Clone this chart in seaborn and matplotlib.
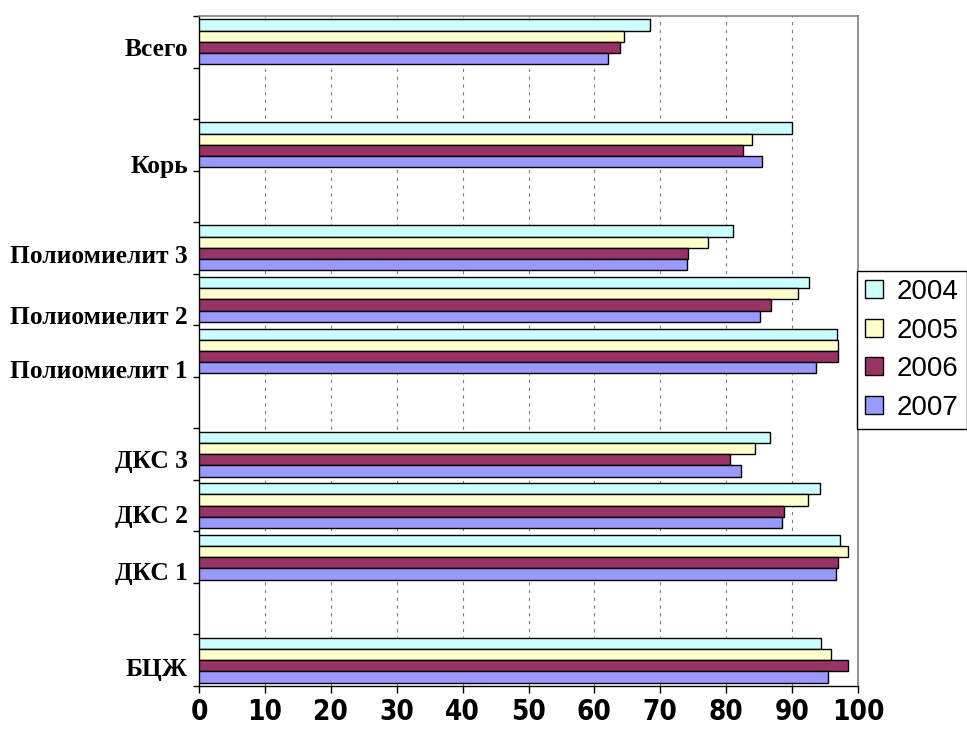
import numpy as np
import pandas as pd
import matplotlib
matplotlib.use("Agg")
import matplotlib.pyplot as plt
import seaborn as sns

# data (percent)
years = ["2004", "2005", "2006", "2007"]
categories = ["Всего", "Корь", "Полиомиелит 3", "Полиомиелит 2", "Полиомиелит 1",
              "ДКС 3", "ДКС 2", "ДКС 1", "БЦЖ"]
v2004 = [68.5, 90.0, 81.1, 92.6, 96.8, 86.6, 94.2, 97.2, 94.4]
v2005 = [64.5, 83.9, 77.3, 90.9, 97.0, 84.3, 92.4, 98.5, 95.9]
v2006 = [63.9, 82.6, 74.2, 86.8, 97.0, 80.6, 88.8, 97.0, 98.5]
v2007 = [62.1, 85.4, 74.0, 85.2, 93.7, 82.3, 88.5, 96.6, 95.5]
colors = ["#CCFFFF", "#FFFFCC", "#993366", "#9999FF"]

# layout: empty slots between groups, and label shift inside each slot
slots = ["Всего", None, "Корь", None, "Полиомиелит 3", "Полиомиелит 2",
         "Полиомиелит 1", None, "ДКС 3", "ДКС 2", "ДКС 1", None, "БЦЖ"]
label_shift = [0.10, 0.37, 0.12, 0.30, 0.35, 0.09, 0.16, 0.27, 0.13]

rows = []
for y, vals in zip(years, [v2004, v2005, v2006, v2007]):
    for c, v in zip(categories, vals):
        rows.append({"cat": c, "year": y, "value": v})
df = pd.DataFrame(rows)

order = [s if s else f"_gap{i}" for i, s in enumerate(slots)]

sns.set_style("white")
plt.rcParams["font.family"] = ["Liberation Sans", "DejaVu Sans"]
plt.rcParams["text.color"] = "black"
plt.rcParams["xtick.color"] = "black"
plt.rcParams["ytick.color"] = "black"
plt.rcParams["xtick.labelcolor"] = "black"
plt.rcParams["ytick.labelcolor"] = "black"

fig = plt.figure(figsize=(9.67, 7.36), dpi=100)
ax = fig.add_axes([199 / 967, 1 - 686 / 736, 659 / 967, 670 / 736])

sns.barplot(data=df, x="value", y="cat", hue="year", order=order,
            hue_order=years, palette=colors, width=0.872, orient="h",
            edgecolor="black", linewidth=1.0, saturation=1, errorbar=None,
            ax=ax, zorder=3)

ax.set_xlim(0, 100)
ax.set_ylim(12.5, -0.5)
ax.set_xlabel("")
ax.set_ylabel("")

# x axis
ax.set_xticks(np.arange(0, 101, 10))
ax.set_xticklabels([str(t) for t in range(0, 101, 10)],
                   family="DejaVu Sans", fontstretch="condensed",
                   fontweight="bold", fontsize=20, color="black")
ax.tick_params(axis="x", direction="out", length=5, width=1, pad=4,
               color="black", bottom=True)

# y axis: boundary ticks + labels placed inside slots
ax.set_yticks(np.arange(-0.5, 13, 1))
ax.set_yticklabels([])
ax.tick_params(axis="y", which="major", direction="out", length=4,
               width=1, color="black", left=True)
pos = [order.index(c) + s for c, s in zip(categories, label_shift)]
ax.set_yticks(pos, minor=True)
ax.set_yticklabels(categories, minor=True, family="Liberation Serif",
                   fontweight="bold", fontsize=18.4, color="black")
ax.tick_params(axis="y", which="minor", length=0, pad=8)

# dashed vertical grid
for t in range(10, 100, 10):
    ax.axvline(t, color="#808080", linestyle=(0, (3, 4)), linewidth=0.8,
               zorder=1)

for side in ["top", "right"]:
    ax.spines[side].set_visible(True)
    ax.spines[side].set_color("#808080")
    ax.spines[side].set_linewidth(1.2)
for side in ["left", "bottom"]:
    ax.spines[side].set_color("black")
    ax.spines[side].set_linewidth(1)

handles, labels = ax.get_legend_handles_labels()
leg = ax.legend(handles, labels, loc="center left",
                bbox_to_anchor=(857 / 967, 1 - 350 / 736),
                bbox_transform=fig.transFigure, fontsize=20,
                frameon=True, fancybox=False, framealpha=1,
                edgecolor="black", borderpad=0.3, handlelength=0.62,
                handleheight=0.62, handletextpad=0.5, labelspacing=0.45,
                borderaxespad=0)
leg.get_frame().set_linewidth(1)
for t in leg.get_texts():
    t.set_color("black")

fig.savefig("out.png", dpi=100)
